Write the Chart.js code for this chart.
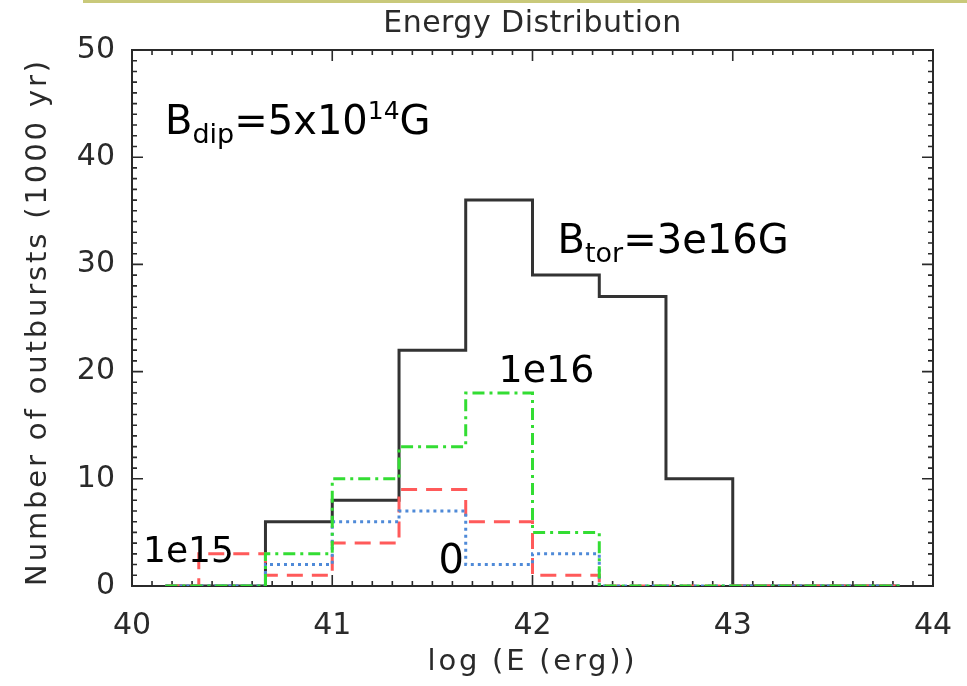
<!DOCTYPE html>
<html>
<head>
<meta charset="utf-8">
<title>Energy Distribution</title>
<script src="https://cdn.jsdelivr.net/npm/chart.js@4.4.1/dist/chart.umd.min.js"></script>
<style>
  html, body { margin: 0; padding: 0; background: #fff; }
  #wrap { width: 967px; height: 686px; position: relative; }
</style>
</head>
<body>
<div id="wrap"><canvas id="chart" width="967" height="686"></canvas></div>
<script>
// histogram bin centres in log E (bins are 1/3 dex wide)
const binCentres = [40.167, 40.5, 40.833, 41.167, 41.5, 41.833, 42.167, 42.5, 42.833, 43.167, 43.5, 43.833];

// outbursts per bin for each toroidal field strength
const countsTor3e16 = [0, 0, 6, 8, 22, 36, 29, 27, 10, 0, 0, 0];
const countsTor1e16 = [0, 0, 3, 10, 13, 18, 5, 0, 0, 0, 0, 0];
const countsTor1e15 = [0, 3, 1, 4, 9, 6, 1, 0, 0, 0, 0, 0];
const countsTor0    = [0, 0, 2, 6, 7, 2, 3, 0, 0, 0, 0, 0];

const xTicks = [40, 41, 42, 43, 44];
const yTicks = [0, 10, 20, 30, 40, 50];

const axisFont = "'DejaVu Sans', sans-serif";
const noteFont = "'Comic Sans MS', 'DejaVu Sans', sans-serif";
const inkColor = '#2a2a2a';

// labels drawn inside the plot, anchored in data units
const notes = [
  { x: 40.165, y: 42.2, size: 40, parts: [{ t: 'B' }, { t: 'dip', sub: true }, { t: '=5x10' }, { t: '14', sup: true }, { t: 'G' }] },
  { x: 42.125, y: 31.1, size: 40, parts: [{ t: 'B' }, { t: 'tor', sub: true }, { t: '=3e16G' }] },
  { x: 41.83, y: 19.0, size: 38, parts: [{ t: '1e16' }] },
  { x: 40.055, y: 2.2, size: 36, parts: [{ t: '1e15' }] },
  { x: 41.53, y: 1.2, size: 40, parts: [{ t: '0' }] }
];

function toPoints(counts) {
  return counts.map((c, i) => ({ x: binCentres[i], y: c }));
}

function histSet(label, counts, color, dash, width, order) {
  return {
    label: label,
    data: toPoints(counts),
    borderColor: color,
    borderWidth: width,
    borderDash: dash,
    stepped: 'middle',
    pointRadius: 0,
    fill: false,
    order: order
  };
}

// text stretched with letter spacing to a given length
function spacedText(ctx, text, width) {
  ctx.letterSpacing = '0px';
  const w = ctx.measureText(text).width;
  ctx.letterSpacing = Math.max(0, (width - w) / (text.length - 1)) + 'px';
  ctx.fillText(text, 0, 0);
  ctx.letterSpacing = '0px';
}

// IDL style frame: box on all four sides with inward ticks
const frame = {
  id: 'frame',
  beforeDatasetsDraw(chart) {
    const { ctx, chartArea: a, scales: { x, y } } = chart;
    ctx.save();
    ctx.strokeStyle = inkColor;
    ctx.lineWidth = 2;
    ctx.strokeRect(a.left, a.top, a.right - a.left, a.bottom - a.top);
    ctx.lineWidth = 1.6;
    ctx.beginPath();
    for (let i = 0; i <= 40; i++) {
      const px = x.getPixelForValue(40 + i * 0.1);
      const len = i % 10 === 0 ? 11 : 5;
      ctx.moveTo(px, a.bottom); ctx.lineTo(px, a.bottom - len);
      ctx.moveTo(px, a.top); ctx.lineTo(px, a.top + len);
    }
    for (let j = 0; j <= 50; j++) {
      const py = y.getPixelForValue(j);
      const len = j % 10 === 0 ? 11 : 5;
      ctx.moveTo(a.left, py); ctx.lineTo(a.left + len, py);
      ctx.moveTo(a.right, py); ctx.lineTo(a.right - len, py);
    }
    ctx.stroke();
    ctx.restore();
  },
  afterDraw(chart) {
    const { ctx, chartArea: a, scales: { x, y } } = chart;
    const midX = (a.left + a.right) / 2;
    ctx.save();
    // header rule and title
    ctx.fillStyle = '#c9c97a';
    ctx.fillRect(83, 0, chart.width - 83, 3);
    ctx.fillStyle = inkColor;
    ctx.textAlign = 'center';
    ctx.textBaseline = 'middle';
    ctx.font = '30px ' + axisFont;
    ctx.save();
    ctx.translate(midX, 24);
    spacedText(ctx, 'Energy Distribution', 298);
    ctx.restore();

    // axis titles
    ctx.font = '29px ' + axisFont;
    ctx.save();
    ctx.translate(midX, 662);
    spacedText(ctx, 'log (E (erg))', 207);
    ctx.restore();
    ctx.save();
    ctx.translate(38, (a.top + a.bottom) / 2 + 4);
    ctx.rotate(-Math.PI / 2);
    spacedText(ctx, 'Number of outbursts (1000 yr)', 525);
    ctx.restore();

    ctx.textAlign = 'left';
    ctx.textBaseline = 'alphabetic';
    ctx.fillStyle = '#000';
    notes.forEach(n => {
      let px = x.getPixelForValue(n.x);
      const py = y.getPixelForValue(n.y);
      n.parts.forEach(p => {
        let size = n.size, dy = 0;
        if (p.sub) { size = 27; dy = 9; }
        if (p.sup) { size = 25; dy = -15; }
        ctx.font = size + 'px ' + noteFont;
        ctx.fillText(p.t, px, py + dy);
        px += ctx.measureText(p.t).width;
      });
    });
    ctx.restore();
  }
};

const ctx = document.getElementById('chart');

new Chart(ctx, {
  type: 'line',
  data: {
    datasets: [
      histSet('3e16', countsTor3e16, '#333333', [], 3, 4),
      histSet('1e15', countsTor1e15, '#ff5a5a', [16, 9], 3, 3),
      histSet('0', countsTor0, '#4f8ad8', [3, 4], 3, 2),
      histSet('1e16', countsTor1e16, '#33dd33', [12, 5, 3, 5], 3, 1)
    ]
  },
  options: {
    responsive: false,
    animation: false,
    layout: { padding: { left: 0, right: 34, top: 50, bottom: 0 } },
    plugins: {
      legend: { display: false },
      tooltip: { enabled: false },
      title: { display: false }
    },
    scales: {
      x: {
        type: 'linear',
        min: 40,
        max: 44,
        afterBuildTicks: s => { s.ticks = xTicks.map(v => ({ value: v })); },
        afterFit: s => { s.height = 100; },
        grid: { display: false },
        border: { display: false },
        ticks: { color: inkColor, padding: 14, maxRotation: 0, font: { size: 30, family: axisFont } }
      },
      y: {
        type: 'linear',
        min: 0,
        max: 50,
        afterBuildTicks: s => { s.ticks = yTicks.map(v => ({ value: v })); },
        afterFit: s => { s.width = 132; },
        grid: { display: false },
        border: { display: false },
        ticks: { color: inkColor, padding: 9, font: { size: 30, family: axisFont } }
      }
    }
  },
  plugins: [frame]
});
</script>
</body>
</html>
